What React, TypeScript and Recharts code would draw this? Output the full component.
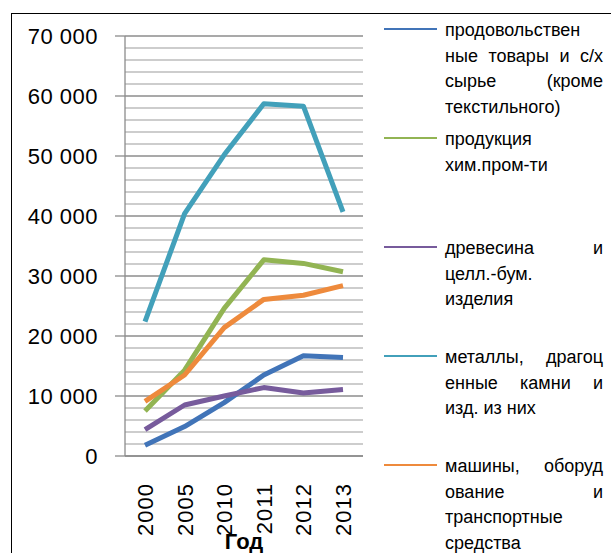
import React from 'react';
import { LineChart, Line, XAxis, YAxis, CartesianGrid, Label } from 'recharts';

// ---- data ----
const years = ['2000', '2005', '2010', '2011', '2012', '2013'];
const food = [1800, 4900, 8900, 13500, 16700, 16400];
const chem = [7500, 14300, 24600, 32700, 32100, 30700];
const wood = [4400, 8500, 10000, 11400, 10500, 11100];
const metals = [22400, 40400, 50200, 58700, 58300, 40700];
const machines = [9100, 13500, 21400, 26100, 26800, 28400];

const yTicks = [0, 10000, 20000, 30000, 40000, 50000, 60000, 70000];
const minorTicks = [2000, 4000, 6000, 8000, 12000, 14000, 16000, 18000, 22000, 24000, 26000, 28000,
  32000, 34000, 36000, 38000, 42000, 44000, 46000, 48000, 52000, 54000, 56000, 58000,
  62000, 64000, 66000, 68000];

// legend labels, broken the way the original wraps them
const foodLabel = ['продовольствен', 'ные товары и с/х', 'сырье (кроме', 'текстильного)'];
const chemLabel = ['продукция', 'хим.пром-ти'];
const woodLabel = ['древесина и', 'целл.-бум.', 'изделия'];
const metalsLabel = ['металлы, драгоц', 'енные камни и', 'изд. из них'];
const machinesLabel = ['машины, оборуд', 'ование и', 'транспортные', 'средства'];

const series = [
  { key: 'food', values: food, label: foodLabel, color: '#4174b8' },
  { key: 'chem', values: chem, label: chemLabel, color: '#92b453' },
  { key: 'wood', values: wood, label: woodLabel, color: '#775b9c' },
  { key: 'metals', values: metals, label: metalsLabel, color: '#42a0ba' },
  { key: 'machines', values: machines, label: machinesLabel, color: '#ee8a3c' },
];

const chartData = years.map((year, i) => {
  const row: Record<string, string | number> = { year };
  series.forEach(s => { row[s.key] = s.values[i]; });
  return row;
});

const FONT = '"Liberation Sans", Arial, sans-serif';

const fmt = (v: number) => String(v).replace(/\B(?=(\d{3})+(?!\d))/g, '\u00a0');

const YearTick = (props: any) => {
  const { x, y, payload } = props;
  return (
    <text x={x} y={y} transform={`rotate(-90 ${x} ${y})`} textAnchor="end" dy="0.36em"
      fontSize={22} fill="#000" fontFamily={FONT} letterSpacing={1}>
      {payload.value}
    </text>
  );
};

const App: React.FC = () => {
  return (
    <div style={{ position: 'absolute', left: 0, top: 0, width: 611, height: 553, overflow: 'hidden', background: '#fff' }}>
      {/* chart frame */}
      <div style={{ position: 'absolute', left: 11, top: 13, width: 700, height: 700, border: '1.5px solid #000' }} />

      <div style={{ position: 'absolute', left: 0, top: 0 }}>
        <LineChart width={611} height={553} data={chartData}
          margin={{ top: 36, right: 248, left: 65, bottom: 0 }}>
          <CartesianGrid horizontal vertical={false} horizontalValues={minorTicks} stroke="#bdbdbd" strokeWidth={1.3} />
          <CartesianGrid horizontal vertical={false} horizontalValues={yTicks} stroke="#8c8c8c" strokeWidth={1.3} />
          <XAxis dataKey="year" height={97} tick={<YearTick />} tickLine={false} tickSize={0} tickMargin={27}
            padding={{ left: 20, right: 20 }}
            axisLine={{ stroke: '#8c8c8c', strokeWidth: 1.3 }} interval={0}>
            <Label value="Год" position="insideBottom" offset={4} fontSize={22} fontWeight="bold" fill="#000" fontFamily={FONT} />
          </XAxis>
          <YAxis width={60} domain={[0, 70000]} ticks={yTicks} tickFormatter={fmt} interval={0}
            tickSize={10} tickMargin={17} tickLine={{ stroke: '#8c8c8c', strokeWidth: 1.3 }}
            axisLine={{ stroke: '#8c8c8c', strokeWidth: 1.3 }}
            tick={{ fontSize: 22, fill: '#000', fontFamily: FONT, letterSpacing: 0.5 }} />
          {series.map(s => (
            <Line key={s.key} dataKey={s.key} stroke={s.color} strokeWidth={5} dot={false}
              strokeLinejoin="round" isAnimationActive={false} />
          ))}
        </LineChart>
      </div>

      {/* legend */}
      {series.map((s, i) => (
        <div key={s.key} style={{ position: 'absolute', left: 384, top: 18 + i * 109, width: 222 }}>
          <div style={{ position: 'absolute', left: 0, top: 10, width: 53, height: 2, background: s.color }} />
          <div style={{ position: 'absolute', left: 61, top: 0, width: 158, fontFamily: FONT, fontSize: 18, lineHeight: '25.5px', color: '#000' }}>
            {s.label.map((line, j) => (
              <div key={j} style={{ textAlign: 'justify', textAlignLast: j === s.label.length - 1 ? 'left' : 'justify', whiteSpace: 'nowrap' }}>
                {line}
              </div>
            ))}
          </div>
        </div>
      ))}
    </div>
  );
};

export default App;
